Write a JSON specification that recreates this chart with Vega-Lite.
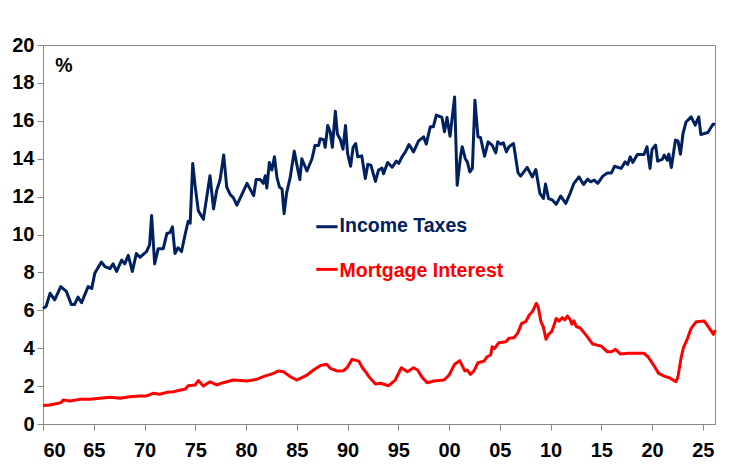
{
  "$schema": "https://vega.github.io/schema/vega-lite/v6.json",
  "width": 672,
  "height": 379,
  "autosize": {"type": "none"},
  "padding": {"left": 43, "top": 45, "right": 16, "bottom": 52},
  "background": "white",
  "data": {"values": [{}]},
  "config": {
    "view": {"stroke": "#898989", "strokeWidth": 1},
    "axis": {
      "grid": false,
      "domainColor": "#898989",
      "tickColor": "#898989",
      "tickSize": 6,
      "labelFont": "Liberation Sans",
      "labelFontWeight": "bold",
      "labelFontSize": 20,
      "labelColor": "black",
      "labelOverlap": false,
      "title": null
    },
    "axisX": {"labelPadding": 10},
    "axisY": {"labelPadding": 3, "labelFlush": false},
    "text": {"font": "Liberation Sans", "fontWeight": "bold", "fontSize": 19.5}
  },
  "datasets": {
    "tax": [
      {"year": 1960.0, "value": 6.1}, {"year": 1960.3, "value": 6.2}, {"year": 1960.7, "value": 6.9},
      {"year": 1961.15, "value": 6.55}, {"year": 1961.75, "value": 7.25}, {"year": 1962.3, "value": 7.0},
      {"year": 1962.8, "value": 6.3}, {"year": 1963.1, "value": 6.3}, {"year": 1963.45, "value": 6.7},
      {"year": 1963.8, "value": 6.4}, {"year": 1964.1, "value": 6.8}, {"year": 1964.45, "value": 7.25},
      {"year": 1964.8, "value": 7.15}, {"year": 1965.1, "value": 7.95}, {"year": 1965.75, "value": 8.55},
      {"year": 1966.1, "value": 8.3}, {"year": 1966.6, "value": 8.2}, {"year": 1966.9, "value": 8.45},
      {"year": 1967.25, "value": 8.05}, {"year": 1967.75, "value": 8.65}, {"year": 1968.05, "value": 8.45},
      {"year": 1968.4, "value": 8.9}, {"year": 1968.8, "value": 8.05}, {"year": 1969.2, "value": 9.0},
      {"year": 1969.55, "value": 8.8}, {"year": 1970.2, "value": 9.1}, {"year": 1970.5, "value": 9.45},
      {"year": 1970.7, "value": 11.0}, {"year": 1971.0, "value": 8.45}, {"year": 1971.35, "value": 9.25},
      {"year": 1971.85, "value": 9.25}, {"year": 1972.2, "value": 10.05}, {"year": 1972.5, "value": 10.1},
      {"year": 1972.75, "value": 10.4}, {"year": 1973.0, "value": 9.0}, {"year": 1973.3, "value": 9.3},
      {"year": 1973.65, "value": 9.1}, {"year": 1974.0, "value": 10.0}, {"year": 1974.3, "value": 10.7},
      {"year": 1974.5, "value": 10.6}, {"year": 1974.75, "value": 13.75}, {"year": 1975.0, "value": 12.5},
      {"year": 1975.3, "value": 11.25}, {"year": 1975.8, "value": 10.8}, {"year": 1976.45, "value": 13.1},
      {"year": 1976.8, "value": 11.35}, {"year": 1977.1, "value": 12.3}, {"year": 1977.45, "value": 12.9},
      {"year": 1977.8, "value": 14.2}, {"year": 1978.1, "value": 12.5}, {"year": 1978.45, "value": 12.1},
      {"year": 1978.75, "value": 11.95}, {"year": 1979.1, "value": 11.55}, {"year": 1980.1, "value": 12.7},
      {"year": 1980.75, "value": 12.05}, {"year": 1981.0, "value": 12.9}, {"year": 1981.4, "value": 12.9},
      {"year": 1981.7, "value": 12.7}, {"year": 1981.9, "value": 13.1}, {"year": 1982.05, "value": 12.45},
      {"year": 1982.3, "value": 13.8}, {"year": 1982.55, "value": 13.4}, {"year": 1982.8, "value": 14.1},
      {"year": 1983.05, "value": 13.0}, {"year": 1983.3, "value": 12.5}, {"year": 1983.55, "value": 12.4},
      {"year": 1983.75, "value": 11.1}, {"year": 1984.0, "value": 12.2}, {"year": 1984.35, "value": 13.0},
      {"year": 1984.75, "value": 14.4}, {"year": 1985.0, "value": 13.7}, {"year": 1985.3, "value": 12.9},
      {"year": 1985.5, "value": 14.0}, {"year": 1986.0, "value": 13.35}, {"year": 1986.5, "value": 14.0},
      {"year": 1986.8, "value": 14.7}, {"year": 1987.15, "value": 14.7}, {"year": 1987.3, "value": 15.05},
      {"year": 1987.65, "value": 15.0}, {"year": 1987.8, "value": 14.6}, {"year": 1988.05, "value": 15.75},
      {"year": 1988.3, "value": 15.4}, {"year": 1988.5, "value": 14.6}, {"year": 1988.8, "value": 16.5},
      {"year": 1989.0, "value": 15.3}, {"year": 1989.3, "value": 15.0}, {"year": 1989.55, "value": 14.5},
      {"year": 1989.8, "value": 15.75}, {"year": 1990.0, "value": 14.3}, {"year": 1990.3, "value": 13.6},
      {"year": 1990.55, "value": 14.6}, {"year": 1990.8, "value": 14.8}, {"year": 1991.0, "value": 14.1},
      {"year": 1991.4, "value": 14.15}, {"year": 1991.75, "value": 12.96}, {"year": 1992.0, "value": 13.7},
      {"year": 1992.3, "value": 13.66}, {"year": 1992.75, "value": 12.8}, {"year": 1993.05, "value": 13.4},
      {"year": 1993.4, "value": 13.5}, {"year": 1993.55, "value": 13.2}, {"year": 1993.95, "value": 13.8},
      {"year": 1994.4, "value": 13.55}, {"year": 1994.8, "value": 13.87}, {"year": 1995.05, "value": 13.75},
      {"year": 1995.4, "value": 14.13}, {"year": 1995.7, "value": 14.36}, {"year": 1996.05, "value": 14.75},
      {"year": 1996.5, "value": 14.36}, {"year": 1997.0, "value": 14.94}, {"year": 1997.5, "value": 15.15},
      {"year": 1997.75, "value": 14.77}, {"year": 1998.15, "value": 15.68}, {"year": 1998.45, "value": 15.68},
      {"year": 1998.75, "value": 16.3}, {"year": 1999.3, "value": 16.18}, {"year": 1999.55, "value": 15.42},
      {"year": 1999.8, "value": 16.18}, {"year": 2000.1, "value": 15.19}, {"year": 2000.55, "value": 17.26},
      {"year": 2000.8, "value": 12.6}, {"year": 2001.15, "value": 14.19}, {"year": 2001.3, "value": 14.63},
      {"year": 2001.6, "value": 14.0}, {"year": 2001.8, "value": 13.83}, {"year": 2002.05, "value": 13.3},
      {"year": 2002.3, "value": 13.49}, {"year": 2002.55, "value": 17.09}, {"year": 2002.85, "value": 15.15},
      {"year": 2003.1, "value": 15.12}, {"year": 2003.5, "value": 14.13}, {"year": 2003.85, "value": 14.89},
      {"year": 2004.25, "value": 14.72}, {"year": 2004.6, "value": 14.31}, {"year": 2004.8, "value": 14.89},
      {"year": 2005.1, "value": 14.77}, {"year": 2005.35, "value": 14.84}, {"year": 2005.65, "value": 14.36},
      {"year": 2005.9, "value": 14.63}, {"year": 2006.35, "value": 14.8}, {"year": 2006.8, "value": 13.25},
      {"year": 2007.05, "value": 13.08}, {"year": 2007.7, "value": 13.54}, {"year": 2008.2, "value": 13.04},
      {"year": 2008.55, "value": 13.43}, {"year": 2008.95, "value": 12.17}, {"year": 2009.3, "value": 11.9},
      {"year": 2009.5, "value": 12.66}, {"year": 2009.8, "value": 11.9}, {"year": 2010.2, "value": 11.81},
      {"year": 2010.55, "value": 11.59}, {"year": 2011.0, "value": 12.03}, {"year": 2011.5, "value": 11.64},
      {"year": 2011.95, "value": 12.2}, {"year": 2012.3, "value": 12.7}, {"year": 2012.8, "value": 13.04},
      {"year": 2013.25, "value": 12.64}, {"year": 2013.65, "value": 12.92}, {"year": 2013.95, "value": 12.78},
      {"year": 2014.3, "value": 12.87}, {"year": 2014.65, "value": 12.7}, {"year": 2015.15, "value": 13.08},
      {"year": 2015.6, "value": 13.25}, {"year": 2016.0, "value": 13.25}, {"year": 2016.3, "value": 13.6},
      {"year": 2016.95, "value": 13.49}, {"year": 2017.35, "value": 13.83}, {"year": 2017.6, "value": 13.7},
      {"year": 2017.85, "value": 14.1}, {"year": 2018.1, "value": 13.8}, {"year": 2018.55, "value": 14.22},
      {"year": 2019.2, "value": 14.22}, {"year": 2019.5, "value": 14.63}, {"year": 2019.8, "value": 13.49},
      {"year": 2020.0, "value": 14.49}, {"year": 2020.35, "value": 14.72}, {"year": 2020.55, "value": 13.87},
      {"year": 2021.0, "value": 13.96}, {"year": 2021.2, "value": 14.19}, {"year": 2021.5, "value": 13.92},
      {"year": 2021.65, "value": 14.24}, {"year": 2021.9, "value": 13.54}, {"year": 2022.3, "value": 14.98},
      {"year": 2022.55, "value": 14.94}, {"year": 2022.8, "value": 14.24}, {"year": 2023.05, "value": 15.33},
      {"year": 2023.35, "value": 15.94}, {"year": 2023.85, "value": 16.21}, {"year": 2024.25, "value": 15.77},
      {"year": 2024.6, "value": 16.21}, {"year": 2024.8, "value": 15.28}, {"year": 2025.5, "value": 15.38},
      {"year": 2026.0, "value": 15.82}, {"year": 2026.2, "value": 15.82}
    ],
    "mortgage": [
      {"year": 1960.0, "value": 0.97}, {"year": 1960.65, "value": 1.0}, {"year": 1961.5, "value": 1.09},
      {"year": 1961.8, "value": 1.14}, {"year": 1962.0, "value": 1.27}, {"year": 1962.65, "value": 1.21},
      {"year": 1963.6, "value": 1.3}, {"year": 1964.6, "value": 1.3}, {"year": 1965.6, "value": 1.36},
      {"year": 1966.6, "value": 1.41}, {"year": 1967.6, "value": 1.36}, {"year": 1968.55, "value": 1.44},
      {"year": 1969.55, "value": 1.48}, {"year": 1970.2, "value": 1.48}, {"year": 1970.85, "value": 1.62},
      {"year": 1971.5, "value": 1.57}, {"year": 1972.2, "value": 1.67}, {"year": 1972.85, "value": 1.7},
      {"year": 1973.5, "value": 1.79}, {"year": 1974.0, "value": 1.83}, {"year": 1974.3, "value": 2.02},
      {"year": 1975.0, "value": 2.06}, {"year": 1975.3, "value": 2.29}, {"year": 1975.8, "value": 2.0},
      {"year": 1976.45, "value": 2.23}, {"year": 1977.1, "value": 2.06}, {"year": 1977.75, "value": 2.18},
      {"year": 1978.75, "value": 2.32}, {"year": 1980.1, "value": 2.27}, {"year": 1981.05, "value": 2.36},
      {"year": 1981.7, "value": 2.5}, {"year": 1982.7, "value": 2.67}, {"year": 1983.2, "value": 2.8},
      {"year": 1983.7, "value": 2.76}, {"year": 1984.35, "value": 2.5}, {"year": 1985.0, "value": 2.32},
      {"year": 1986.0, "value": 2.58}, {"year": 1986.65, "value": 2.85}, {"year": 1987.3, "value": 3.08},
      {"year": 1987.95, "value": 3.15}, {"year": 1988.3, "value": 2.94}, {"year": 1988.95, "value": 2.8},
      {"year": 1989.6, "value": 2.81}, {"year": 1989.95, "value": 2.97}, {"year": 1990.45, "value": 3.41},
      {"year": 1991.1, "value": 3.32}, {"year": 1991.5, "value": 2.94}, {"year": 1991.9, "value": 2.67},
      {"year": 1992.1, "value": 2.5}, {"year": 1992.75, "value": 2.11}, {"year": 1993.25, "value": 2.15},
      {"year": 1994.05, "value": 2.02}, {"year": 1994.7, "value": 2.32}, {"year": 1995.3, "value": 2.97},
      {"year": 1995.9, "value": 2.76}, {"year": 1996.5, "value": 2.97}, {"year": 1996.9, "value": 2.85},
      {"year": 1997.35, "value": 2.46}, {"year": 1997.85, "value": 2.18}, {"year": 1998.5, "value": 2.27},
      {"year": 1999.5, "value": 2.32}, {"year": 2000.0, "value": 2.58}, {"year": 2000.55, "value": 3.15},
      {"year": 2001.05, "value": 3.34}, {"year": 2001.55, "value": 2.8}, {"year": 2001.8, "value": 2.85},
      {"year": 2002.1, "value": 2.62}, {"year": 2002.45, "value": 2.8}, {"year": 2002.85, "value": 3.23},
      {"year": 2003.45, "value": 3.32}, {"year": 2003.75, "value": 3.55}, {"year": 2004.1, "value": 3.64},
      {"year": 2004.25, "value": 4.08}, {"year": 2004.5, "value": 3.99}, {"year": 2004.9, "value": 4.29},
      {"year": 2005.6, "value": 4.34}, {"year": 2005.9, "value": 4.52}, {"year": 2006.4, "value": 4.55},
      {"year": 2006.75, "value": 4.78}, {"year": 2007.15, "value": 5.31}, {"year": 2007.55, "value": 5.4},
      {"year": 2007.9, "value": 5.75}, {"year": 2008.2, "value": 5.92}, {"year": 2008.6, "value": 6.37},
      {"year": 2008.8, "value": 6.14}, {"year": 2009.05, "value": 5.4}, {"year": 2009.3, "value": 5.1},
      {"year": 2009.55, "value": 4.47}, {"year": 2009.8, "value": 4.73}, {"year": 2010.1, "value": 4.87},
      {"year": 2010.35, "value": 5.22}, {"year": 2010.55, "value": 5.57}, {"year": 2010.85, "value": 5.43},
      {"year": 2011.15, "value": 5.61}, {"year": 2011.4, "value": 5.49}, {"year": 2011.65, "value": 5.7},
      {"year": 2011.9, "value": 5.54}, {"year": 2012.1, "value": 5.27}, {"year": 2012.3, "value": 5.45},
      {"year": 2012.55, "value": 5.13}, {"year": 2012.9, "value": 5.08}, {"year": 2013.5, "value": 4.69},
      {"year": 2014.15, "value": 4.22}, {"year": 2015.0, "value": 4.11}, {"year": 2015.6, "value": 3.81},
      {"year": 2016.0, "value": 3.81}, {"year": 2016.4, "value": 3.94}, {"year": 2016.9, "value": 3.69},
      {"year": 2017.65, "value": 3.73}, {"year": 2018.3, "value": 3.73}, {"year": 2019.2, "value": 3.73},
      {"year": 2019.6, "value": 3.55}, {"year": 2020.15, "value": 3.11}, {"year": 2020.65, "value": 2.67},
      {"year": 2021.2, "value": 2.53}, {"year": 2021.7, "value": 2.44}, {"year": 2022.35, "value": 2.23},
      {"year": 2022.55, "value": 2.5}, {"year": 2022.85, "value": 3.46}, {"year": 2023.1, "value": 4.05},
      {"year": 2023.5, "value": 4.52}, {"year": 2023.85, "value": 5.05}, {"year": 2024.35, "value": 5.4},
      {"year": 2025.15, "value": 5.43}, {"year": 2025.65, "value": 5.05}, {"year": 2026.05, "value": 4.73},
      {"year": 2026.2, "value": 4.96}
    ]
  },
  "layer": [
    {
      "data": {"name": "tax"},
      "mark": {"type": "line", "color": "#002060", "strokeWidth": 3, "strokeJoin": "round"},
      "encoding": {
        "x": {
          "field": "year",
          "type": "quantitative",
          "scale": {"domain": [1960, 2026.2], "nice": false, "zero": false},
          "axis": {
            "values": [1960, 1965, 1970, 1975, 1980, 1985, 1990, 1995, 2000, 2005, 2010, 2015, 2020, 2025],
            "tickCount": 30,
            "labelExpr": "substring(toString(datum.value), 2, 4)"
          }
        },
        "y": {
          "field": "value",
          "type": "quantitative",
          "scale": {"domain": [0, 20], "nice": false},
          "axis": {"values": [0, 2, 4, 6, 8, 10, 12, 14, 16, 18, 20], "tickCount": 20}
        }
      }
    },
    {
      "data": {"name": "mortgage"},
      "mark": {"type": "line", "color": "#ff0000", "strokeWidth": 3, "strokeJoin": "round"},
      "encoding": {
        "x": {"field": "year", "type": "quantitative"},
        "y": {"field": "value", "type": "quantitative"}
      }
    },
    {
      "mark": {"type": "rule", "color": "#002060", "strokeWidth": 3},
      "encoding": {
        "x": {"datum": 1986.92, "type": "quantitative"},
        "x2": {"datum": 1989.02},
        "y": {"datum": 10.41, "type": "quantitative"}
      }
    },
    {
      "mark": {"type": "rule", "color": "#ff0000", "strokeWidth": 3},
      "encoding": {
        "x": {"datum": 1986.92, "type": "quantitative"},
        "x2": {"datum": 1989.02},
        "y": {"datum": 8.16, "type": "quantitative"}
      }
    },
    {
      "mark": {"type": "text", "align": "left", "baseline": "alphabetic", "color": "#002060", "text": "Income Taxes"},
      "encoding": {
        "x": {"datum": 1989.22, "type": "quantitative"},
        "y": {"datum": 10.13, "type": "quantitative"}
      }
    },
    {
      "mark": {"type": "text", "align": "left", "baseline": "alphabetic", "color": "#ff0000", "text": "Mortgage Interest"},
      "encoding": {
        "x": {"datum": 1989.22, "type": "quantitative"},
        "y": {"datum": 7.77, "type": "quantitative"}
      }
    },
    {
      "mark": {"type": "text", "align": "left", "baseline": "alphabetic", "color": "black", "text": "%"},
      "encoding": {
        "x": {"datum": 1961.2, "type": "quantitative"},
        "y": {"datum": 18.58, "type": "quantitative"}
      }
    }
  ]
}
